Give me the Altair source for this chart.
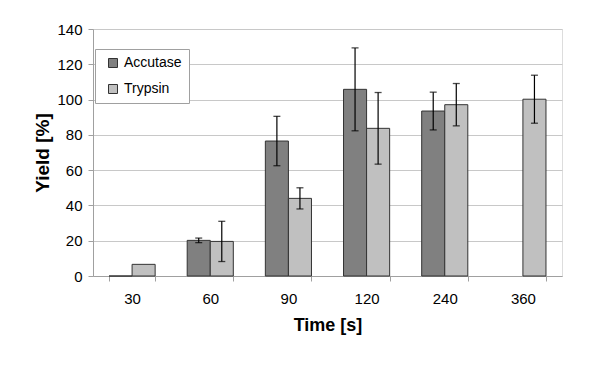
import altair as alt
import pandas as pd

times = ["30", "60", "90", "120", "240", "360"]
enzymes = ["Accutase", "Trypsin"]
accutase = [0, 20.2, 76.5, 105.8, 93.5, None]
accutase_err = [None, 1.3, 14.0, 23.5, 10.7, None]
trypsin = [6.6, 19.6, 44.0, 83.7, 97.1, 100.2]
trypsin_err = [None, 11.4, 6.0, 20.3, 12.0, 13.6]
y_ticks = [0, 20, 40, 60, 80, 100, 120, 140]

rows = []
for i, t in enumerate(times):
    for name, vals, errs in (("Accutase", accutase, accutase_err), ("Trypsin", trypsin, trypsin_err)):
        v = vals[i]
        e = errs[i]
        if v is None:
            continue
        rows.append({
            "time": t, "enzyme": name, "yield": v,
            "lo": v - e if e is not None else None,
            "hi": v + e if e is not None else None,
        })
df = pd.DataFrame(rows)
err_df = df.dropna(subset=["lo"])

FONT = "Liberation Sans"
GRID = "#c8c8c8"
AXIS = "#a0a0a0"

x_axis = alt.Axis(labelAngle=0, tickBand="extent", tickSize=5, tickColor=AXIS,
                  domainColor=AXIS, labelFontSize=15, labelPadding=10,
                  titleFontSize=18, titleFontWeight="bold", titlePadding=10,
                  labelColor="black", titleColor="black", labelFont=FONT, titleFont=FONT)
y_axis = alt.Axis(values=y_ticks, tickSize=5, tickColor=AXIS, labelOverlap=False,
                  domainColor=AXIS, gridColor=GRID, labelFontSize=15, labelPadding=6,
                  titleFontSize=19, titleFontWeight="bold", titlePadding=4,
                  labelColor="black", titleColor="black", labelFont=FONT, titleFont=FONT)
xscale = alt.Scale(paddingInner=0.41, paddingOuter=0.205)
yscale = alt.Scale(domain=[0, 140], nice=False)

x = alt.X("time:N", sort=times, title="Time [s]", scale=xscale, axis=x_axis)
xo = alt.XOffset("enzyme:N", sort=enzymes, scale=alt.Scale(paddingInner=0, paddingOuter=0))

bars = alt.Chart(df).mark_bar(stroke="#333333", strokeWidth=1).encode(
    x=x,
    xOffset=xo,
    y=alt.Y("yield:Q", title="Yield [%]", scale=yscale, axis=y_axis),
    color=alt.Color("enzyme:N", sort=enzymes,
                    scale=alt.Scale(domain=enzymes, range=["#808080", "#c0c0c0"]),
                    legend=alt.Legend(title=None, orient="none", legendX=2, legendY=20,
                                      fillColor="white", strokeColor=AXIS, padding=7,
                                      symbolType="square", symbolSize=81,
                                      symbolStrokeColor="#333333", symbolStrokeWidth=1,
                                      symbolOffset=4, labelOffset=4,
                                      labelFontSize=14, labelFont=FONT, labelColor="black",
                                      rowPadding=12)),
)

rules = alt.Chart(err_df).mark_rule(color="black", strokeWidth=1.2).encode(
    x=x, xOffset=xo, y=alt.Y("lo:Q", title="Yield [%]", scale=yscale, axis=y_axis), y2="hi:Q")
caps_lo = alt.Chart(err_df).mark_tick(color="black", size=7, thickness=1.3).encode(
    x=x, xOffset=xo, y=alt.Y("lo:Q", title="Yield [%]", scale=yscale, axis=y_axis))
caps_hi = alt.Chart(err_df).mark_tick(color="black", size=7, thickness=1.3).encode(
    x=x, xOffset=xo, y=alt.Y("hi:Q", title="Yield [%]", scale=yscale, axis=y_axis))

chart = alt.layer(bars, rules, caps_lo, caps_hi).properties(
    width=469, height=247,
    autosize=alt.AutoSizeParams(type="none"),
    padding={"left": 85, "top": 21, "right": 30, "bottom": 81},
).configure_view(stroke=AXIS).configure(font=FONT)

chart.save("out.html", embed_options={"renderer": "svg", "actions": False})
